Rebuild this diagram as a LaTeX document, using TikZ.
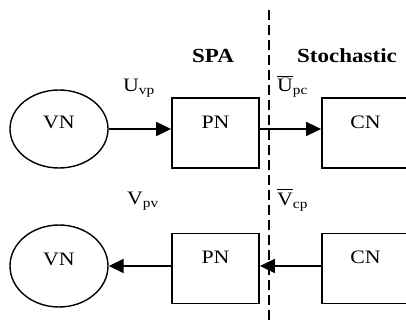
\documentclass[tikz,border=0pt]{standalone}
\usepackage{fontspec}
\setmainfont{Liberation Serif}[FakeStretch=1.15]
\usepackage{tikz}
\usetikzlibrary{shapes.geometric,arrows.meta,positioning}

\begin{document}
\begin{tikzpicture}[x=1pt,y=1pt,font=\fontsize{19}{22}\selectfont,
  noeud/.style={ellipse,draw,line width=1.4pt,minimum width=98pt,minimum height=78pt,
                inner sep=0pt,text height=13pt,text depth=13pt},
  bloc/.style={rectangle,draw,line width=1.8pt,minimum width=87pt,minimum height=70pt,
               inner sep=0pt,text height=13pt,text depth=22pt},
  titre/.style={anchor=base west,inner sep=0pt,font=\fontsize{20}{24}\selectfont\bfseries},
  etiq/.style={anchor=base west,inner sep=0pt},
  fleche/.style={-{Triangle[length=15pt,width=14pt]},line width=1.8pt}]
  \useasboundingbox (0,0) rectangle (406,323);

  \node[noeud] (VN1) at (59,194) {VN};
  \node[bloc]  (PN1) at (215.5,190) {PN};
  \node[bloc]  (CN1) at (365.5,190) {CN};
  \node[noeud,minimum height=82pt] (VN2) at (59,57) {VN};
  \node[bloc]  (PN2) at (215.5,54.5) {PN};
  \node[bloc]  (CN2) at (365.5,54.5) {CN};

  \coordinate (haut) at (269,313);
  \coordinate (bas) at (269,0);
  \draw[dashed,dash pattern=on 10pt off 5pt,line width=1.4pt] (haut) -- (bas);

  \node[titre] (spa) at (192,260) {SPA};
  \node[titre] (sto) at (297,260) {Stochastic};
  \node[etiq] (Uvp) at (123,231) {U\textsubscript{vp}};
  \node[etiq] (Upc) at (277,231) {$\overline{\hbox{Ū}}$\textsubscript{pc}};
  \node[etiq] (Vpv) at (127,118) {V\textsubscript{pv}};
  \node[etiq] (Vcp) at (277,117) {$\overline{\hbox{\rule{0pt}{15.5pt}V}}$\textsubscript{cp}};

  \draw[fleche] (VN1.east) -- (PN1.west |- VN1.east);
  \draw[fleche] (PN1.east |- VN1.east) -- (CN1.west |- VN1.east);
  \draw[fleche] (CN2.west |- VN2.east) -- (PN2.east |- VN2.east);
  \draw[fleche] (PN2.west |- VN2.east) -- (VN2.east);
\end{tikzpicture}
\end{document}
